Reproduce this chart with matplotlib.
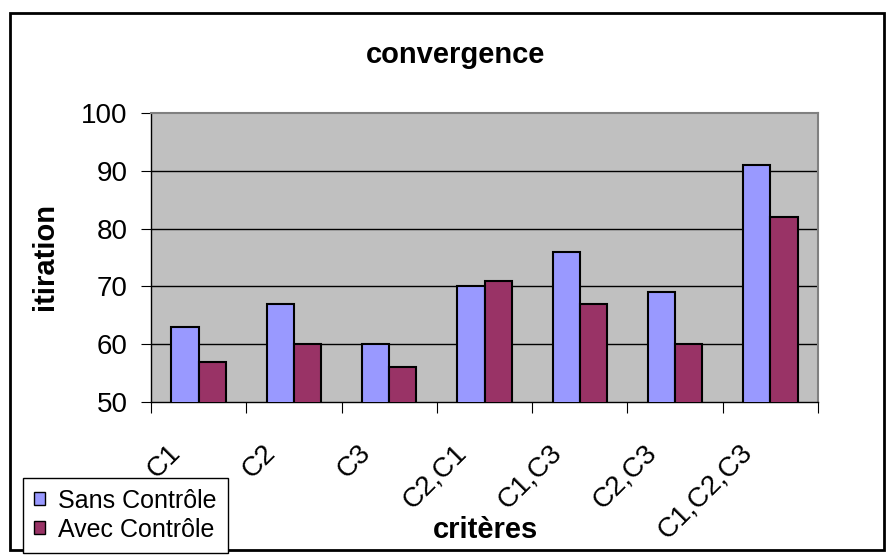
import numpy as np
import matplotlib.pyplot as plt
from matplotlib.patches import Rectangle, Patch
from matplotlib.transforms import ScaledTranslation

plt.rcParams['font.family'] = ['Liberation Sans', 'DejaVu Sans']

# Données
categories = ["C1", "C2", "C3", "C2,C1", "C1,C3", "C2,C3", "C1,C2,C3"]
sans_controle = [63, 67, 60, 70, 76, 69, 91]
avec_controle = [57, 60, 56, 71, 67, 60, 82]

fig = plt.figure(figsize=(8.9, 5.59), dpi=100)
ax = fig.add_axes([151/890, 1 - 402/559, (818 - 151)/890, (402 - 113)/559])

x = np.arange(len(categories)) + 0.5
w = 1 / 3.5
ax.bar(x - w/2, sans_controle, w, color='#9999FF', edgecolor='black', linewidth=1.5, zorder=3)
ax.bar(x + w/2, avec_controle, w, color='#993366', edgecolor='black', linewidth=1.5, zorder=3)

ax.set_facecolor('#C0C0C0')
ax.set_xlim(0, len(categories))
ax.set_ylim(50, 100)
ax.set_yticks(np.arange(50, 101, 10))
for yv in [60, 70, 80, 90]:
    ax.axhline(yv, color='black', linewidth=1, zorder=1)

for s in ['top', 'right']:
    ax.spines[s].set_color('#808080')
    ax.spines[s].set_linewidth(1.5)
for s in ['left', 'bottom']:
    ax.spines[s].set_color('black')
    ax.spines[s].set_linewidth(1)

ax.tick_params(axis='y', direction='out', length=7, labelsize=20, pad=10)
ax.set_xticks(np.arange(len(categories) + 1))
ax.tick_params(axis='x', which='major', direction='out', length=8, labelbottom=False)
ax.set_xticks(x, categories, minor=True)
ax.tick_params(axis='x', which='minor', length=0, labelsize=20, pad=27)
shift = ScaledTranslation(-13/100, 0, fig.dpi_scale_trans)
for lbl in ax.get_xticklabels(minor=True):
    lbl.set_rotation(45)
    lbl.set_ha('right')
    lbl.set_va('top')
    lbl.set_transform(lbl.get_transform() + shift)

fig.text(456/890, 1 - 55/559, "convergence", fontsize=21, fontweight='bold', ha='center', va='center')
fig.text(45/890, 1 - 256/559, "itiration", fontsize=21, fontweight='bold', rotation=90, ha='center', va='center')
fig.text(485/890, 1 - 530/559, "critères", fontsize=21, fontweight='bold', ha='center', va='center')

# Cadre du graphique
fig.patches.append(Rectangle((10/890, 9/559), 874/890, 537/559, transform=fig.transFigure,
                             fill=False, edgecolor='black', linewidth=2))

handles = [Patch(facecolor='#9999FF', edgecolor='black'), Patch(facecolor='#993366', edgecolor='black')]
leg = fig.legend(handles, ["Sans Contrôle", "Avec Contrôle"], loc='lower left',
                 bbox_to_anchor=(23/890, 6/559), bbox_transform=fig.transFigure, borderaxespad=0,
                 fontsize=18, handlelength=0.42, handleheight=0.42, handletextpad=0.55,
                 labelspacing=0.2, borderpad=0.45, fancybox=False, framealpha=1)
leg.get_frame().set_edgecolor('black')
leg.get_frame().set_linewidth(1)

fig.savefig("out.png", dpi=100)
